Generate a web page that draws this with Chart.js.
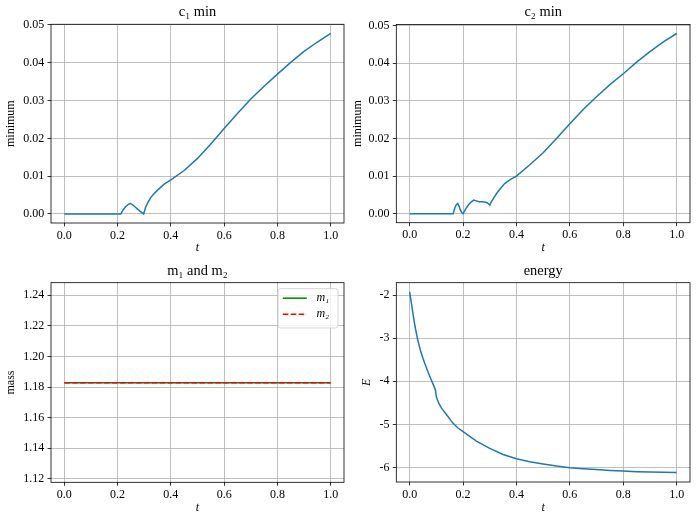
<!DOCTYPE html>
<html>
<head>
<meta charset="utf-8">
<script src="https://cdn.jsdelivr.net/npm/chart.js@4.4.1/dist/chart.umd.min.js"></script>
<style>
  html, body { margin: 0; padding: 0; background: #fff; }
  #wrap { position: relative; width: 697px; height: 520px; overflow: hidden; }
  canvas { position: absolute; }
</style>
</head>
<body>
<div id="wrap">
  <canvas id="p1" width="348" height="260" style="left:0;top:0;width:348px;height:260px"></canvas>
  <canvas id="p2" width="349" height="260" style="left:348px;top:0;width:349px;height:260px"></canvas>
  <canvas id="p3" width="348" height="260" style="left:0;top:260px;width:348px;height:260px"></canvas>
  <canvas id="p4" width="349" height="260" style="left:348px;top:260px;width:349px;height:260px"></canvas>
</div>
<script>
// ---------------- data ----------------
const tTicks = [0, 0.2, 0.4, 0.6, 0.8, 1.0];
const tTickLabels = ['0.0', '0.2', '0.4', '0.6', '0.8', '1.0'];

const minTicks = [0, 0.01, 0.02, 0.03, 0.04, 0.05];
const minTickLabels = ['0.00', '0.01', '0.02', '0.03', '0.04', '0.05'];

const massTicks = [1.12, 1.14, 1.16, 1.18, 1.20, 1.22, 1.24];
const massTickLabels = ['1.12', '1.14', '1.16', '1.18', '1.20', '1.22', '1.24'];

const energyTicks = [-6, -5, -4, -3, -2];
const energyTickLabels = ['-6', '-5', '-4', '-3', '-2'];

const c1T = [0, 0.05, 0.1, 0.15, 0.2, 0.212, 0.22, 0.23, 0.24, 0.247, 0.255, 0.265, 0.275, 0.285, 0.298,
             0.305, 0.315, 0.325, 0.335, 0.35, 0.375, 0.40, 0.45, 0.50, 0.55, 0.60, 0.65, 0.70, 0.75,
             0.80, 0.85, 0.90, 0.95, 1.00];
const c1Min = [0, 0, 0, 0, 0, 0, 0.0010, 0.0019, 0.0025, 0.0028, 0.0025, 0.0019, 0.0013, 0.0007, 0.0000,
               0.0017, 0.0032, 0.0044, 0.0052, 0.0063, 0.0079, 0.0090, 0.0115, 0.0147, 0.0185, 0.0226,
               0.0266, 0.0304, 0.0338, 0.0370, 0.0401, 0.0430, 0.0455, 0.0478];

const c2T = [0, 0.05, 0.1, 0.15, 0.163, 0.17, 0.175, 0.18, 0.185, 0.19, 0.195, 0.2, 0.205, 0.21, 0.22,
             0.23, 0.24, 0.25, 0.26, 0.27, 0.28, 0.29, 0.30, 0.305, 0.315, 0.325, 0.34, 0.356, 0.375,
             0.40, 0.45, 0.50, 0.55, 0.60, 0.65, 0.70, 0.75, 0.80, 0.85, 0.90, 0.95, 1.00];
const c2Min = [0, 0, 0, 0, 0, 0.0017, 0.0024, 0.0027, 0.0020, 0.0010, 0.0003, 0.0000, 0.0006, 0.0013, 0.0023,
               0.0031, 0.0036, 0.0034, 0.0032, 0.0032, 0.0031, 0.0029, 0.0023, 0.0030, 0.0042, 0.0053,
               0.0067, 0.0080, 0.0090, 0.0100, 0.0130, 0.0162, 0.0200, 0.0239, 0.0277, 0.0311, 0.0343,
               0.0372, 0.0403, 0.0431, 0.0457, 0.0479];

const massT = [0, 0.1, 0.2, 0.3, 0.4, 0.5, 0.6, 0.7, 0.8, 0.9, 1.0];
const m1 = [1.1829, 1.1829, 1.1829, 1.1829, 1.1829, 1.1829, 1.1829, 1.1829, 1.1829, 1.1829, 1.1829];
const m2 = [1.1829, 1.1829, 1.1829, 1.1829, 1.1829, 1.1829, 1.1829, 1.1829, 1.1829, 1.1829, 1.1829];

const energyT = [0, 0.01, 0.02, 0.03, 0.04, 0.05, 0.06, 0.07, 0.08, 0.09, 0.097, 0.1, 0.104, 0.11, 0.12,
                 0.14, 0.16, 0.18, 0.2, 0.25, 0.3, 0.35, 0.4, 0.45, 0.5, 0.55, 0.6, 0.65, 0.7, 0.75,
                 0.8, 0.85, 0.9, 0.95, 1.0];
const energy = [-1.92, -2.33, -2.72, -3.03, -3.27, -3.47, -3.64, -3.80, -3.95, -4.10, -4.21, -4.36, -4.43,
                -4.52, -4.63, -4.79, -4.96, -5.08, -5.17, -5.39, -5.56, -5.70, -5.80, -5.87, -5.92,
                -5.97, -6.01, -6.03, -6.05, -6.07, -6.085, -6.10, -6.11, -6.115, -6.12];

// ---------------- styling ----------------
const FONT = "'Liberation Serif', 'Times New Roman', serif";
Chart.defaults.color = '#000';
Chart.defaults.font.family = FONT;

function pts(xs, ys) { return xs.map((x, i) => ({ x: x, y: ys[i] })); }

const framePlugin = {
  id: 'mplFrame',
  afterDraw(chart, args, opts) {
    const { ctx, chartArea: a } = chart;
    ctx.save();
    ctx.strokeStyle = '#000';
    ctx.lineWidth = 0.8;
    ctx.setLineDash([]);
    ctx.strokeRect(a.left, a.top, a.right - a.left, a.bottom - a.top);
    if (opts && opts.legend) {
      const w = 60, h = 39.3;
      const x0 = a.right - 6 - w, y0 = a.top + 6;
      const r = 2.5;
      ctx.beginPath();
      ctx.moveTo(x0 + r, y0);
      ctx.lineTo(x0 + w - r, y0);
      ctx.arcTo(x0 + w, y0, x0 + w, y0 + r, r);
      ctx.lineTo(x0 + w, y0 + h - r);
      ctx.arcTo(x0 + w, y0 + h, x0 + w - r, y0 + h, r);
      ctx.lineTo(x0 + r, y0 + h);
      ctx.arcTo(x0, y0 + h, x0, y0 + h - r, r);
      ctx.lineTo(x0, y0 + r);
      ctx.arcTo(x0, y0, x0 + r, y0, r);
      ctx.closePath();
      ctx.fillStyle = 'rgba(255,255,255,0.8)';
      ctx.fill();
      ctx.strokeStyle = '#cccccc';
      ctx.lineWidth = 0.8;
      ctx.stroke();
      chart.data.datasets.forEach((ds, i) => {
        const y = y0 + 9.5 + i * 16;
        ctx.beginPath();
        ctx.strokeStyle = ds.borderColor;
        ctx.lineWidth = ds.borderWidth;
        ctx.setLineDash(ds.borderDash || []);
        ctx.moveTo(x0 + 4.8, y);
        ctx.lineTo(x0 + 28.8, y);
        ctx.stroke();
        ctx.setLineDash([]);
        ctx.fillStyle = '#000';
        ctx.font = 'italic 12px ' + FONT;
        ctx.textBaseline = 'middle';
        ctx.textAlign = 'left';
        ctx.fillText(ds.label, x0 + 38.4, y);
      });
    }
    ctx.restore();
  }
};

function makeChart(id, cfg) {
  const xAxis = {
    type: 'linear', min: -0.05, max: 1.05,
    afterBuildTicks: s => { s.ticks = tTicks.map(v => ({ value: v })); },
    afterFit: s => { s.height = cfg.xH; },
    ticks: { autoSkip: false, maxRotation: 0, padding: 1.8, font: { size: 12 },
             callback: (v, i) => tTickLabels[i] },
    grid: { color: '#b0b0b0', lineWidth: 0.8, tickColor: '#000', tickWidth: 0.8, tickLength: 3.5 },
    border: { display: false },
    title: { display: true, text: 't', font: { size: 12, style: 'italic', lineHeight: 1.2 },
             padding: { top: 0, bottom: 5.05 } }
  };
  const yAxis = {
    type: 'linear', min: cfg.yMin, max: cfg.yMax,
    afterBuildTicks: s => { s.ticks = cfg.yTicks.map(v => ({ value: v })); },
    afterFit: s => { s.width = cfg.yW; },
    ticks: { autoSkip: false, padding: 3.2, font: { size: 12 },
             callback: (v, i) => cfg.yLabels[i] },
    grid: { color: '#b0b0b0', lineWidth: 0.8, tickColor: '#000', tickWidth: 0.8, tickLength: 3.5 },
    border: { display: false },
    title: { display: true, text: cfg.yTitle,
             font: { size: 12, style: cfg.yItalic ? 'italic' : 'normal', lineHeight: 1.2 },
             padding: { top: cfg.yTitlePad, bottom: 0 } }
  };
  return new Chart(document.getElementById(id), {
    type: 'line',
    data: { datasets: cfg.datasets },
    options: {
      responsive: false,
      animation: false,
      devicePixelRatio: 1,
      layout: { padding: { left: 0, top: 0, right: cfg.padR, bottom: 0 } },
      elements: { point: { radius: 0 }, line: { tension: 0 } },
      scales: { x: xAxis, y: yAxis },
      plugins: {
        legend: { display: false },
        tooltip: { enabled: false },
        title: { display: true, text: cfg.title, fullSize: false,
                 font: { size: 14.4, weight: 'normal', lineHeight: 1.2 },
                 padding: { top: cfg.tPadT, bottom: cfg.tPadB } },
        mplFrame: { legend: !!cfg.legend }
      }
    },
    plugins: [framePlugin]
  });
}

const blue = '#1f77b4';

makeChart('p1', {
  title: 'c\u2081 min', tPadT: 3.8, tPadB: 3.2,
  xH: 37, yW: 51, padR: 4,
  yMin: -0.00239, yMax: 0.05019, yTicks: minTicks, yLabels: minTickLabels,
  yTitle: 'minimum', yTitlePad: 3.15,
  datasets: [{ label: 'c1 min', data: pts(c1T, c1Min), borderColor: blue, borderWidth: 1.5, fill: false }]
});

makeChart('p2', {
  title: 'c\u2082 min', tPadT: 3.8, tPadB: 3.4,
  xH: 37.3, yW: 48.3, padR: 7,
  yMin: -0.0024, yMax: 0.0503, yTicks: minTicks, yLabels: minTickLabels,
  yTitle: 'minimum', yTitlePad: 2.15,
  datasets: [{ label: 'c2 min', data: pts(c2T, c2Min), borderColor: blue, borderWidth: 1.5, fill: false }]
});

makeChart('p3', {
  title: 'm\u2081 and m\u2082', tPadT: 2.2, tPadB: 3.2,
  xH: 37.7, yW: 51, padR: 4,
  yMin: 1.1178, yMax: 1.2482, yTicks: massTicks, yLabels: massTickLabels,
  yTitle: 'mass', yTitlePad: 3.15, legend: true,
  datasets: [
    { label: 'm\u2081', data: pts(massT, m1), borderColor: '#008000', borderWidth: 1.5, fill: false, order: 2 },
    { label: 'm\u2082', data: pts(massT, m2), borderColor: '#ff0000', borderWidth: 1.5, borderDash: [5.55, 2.4], fill: false, order: 1 }
  ]
});

makeChart('p4', {
  title: 'energy', tPadT: 2.2, tPadB: 3.2,
  xH: 38, yW: 48.3, padR: 7,
  yMin: -6.34, yMax: -1.707, yTicks: energyTicks, yLabels: energyTickLabels,
  yTitle: 'E', yItalic: true, yTitlePad: 11.8,
  datasets: [{ label: 'energy', data: pts(energyT, energy), borderColor: blue, borderWidth: 1.5, fill: false }]
});
</script>
</body>
</html>
